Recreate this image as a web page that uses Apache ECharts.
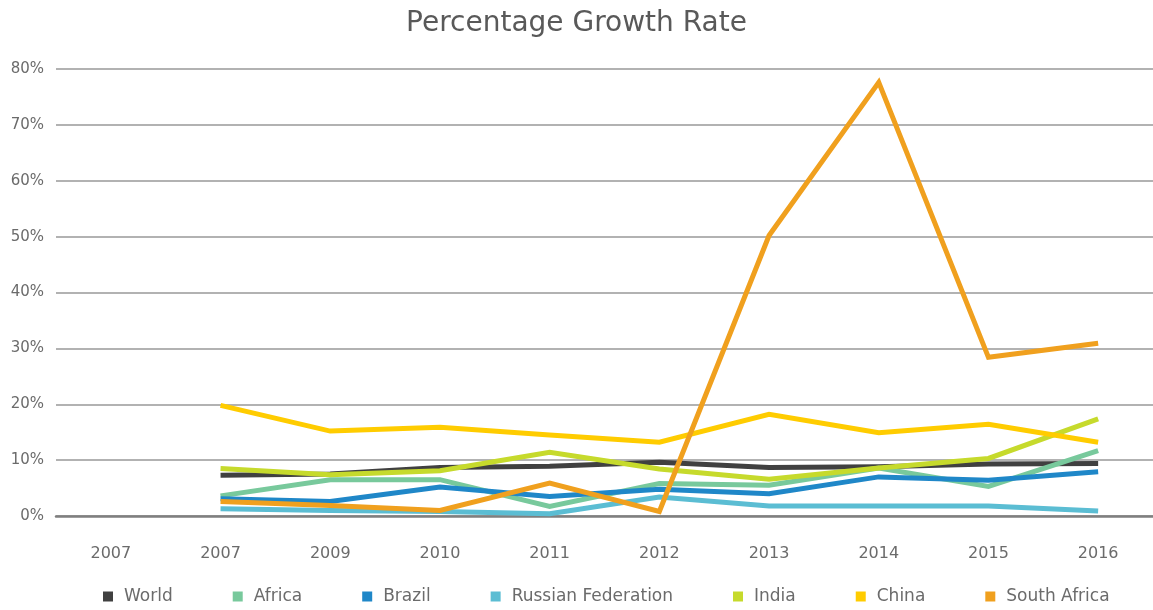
<!DOCTYPE html>
<html>
<head>
<meta charset="utf-8">
<title>Percentage Growth Rate</title>
<script src="https://cdn.jsdelivr.net/npm/echarts@6/dist/echarts.min.js"></script>
<style>
  html, body { margin: 0; padding: 0; background: #fff; }
  #chart { width: 1153px; height: 610px; }
</style>
</head>
<body>
<div id="chart"></div>
<script>
// Year labels along the x axis (the first two both read 2007)
const years = ['2007', '2007', '2009', '2010', '2011', '2012', '2013', '2014', '2015', '2016'];

// Growth rates in percent; the first slot has no data
const world        = [null, 7.3, 7.5, 8.7, 8.9, 9.6, 8.7, 8.8, 9.3, 9.4];
const africa       = [null, 3.6, 6.5, 6.5, 1.7, 5.8, 5.5, 8.6, 5.3, 11.7];
const brazil       = [null, 3.1, 2.6, 5.2, 3.5, 4.8, 4.0, 7.0, 6.4, 7.9];
const russia       = [null, 1.3, 1.0, 0.8, 0.4, 3.4, 1.8, 1.8, 1.8, 0.9];
const india        = [null, 8.5, 7.4, 8.1, 11.4, 8.4, 6.6, 8.6, 10.3, 17.4];
const china        = [null, 19.8, 15.2, 15.9, 14.5, 13.2, 18.2, 14.9, 16.4, 13.2];
const southAfrica  = [null, 2.6, 1.9, 1.0, 5.9, 0.8, 50.2, 77.6, 28.4, 30.9];

const seriesDefs = [
  { name: 'World',              data: world,       color: '#404040' },
  { name: 'Africa',             data: africa,      color: '#78c99c' },
  { name: 'Brazil',             data: brazil,      color: '#1f87c8' },
  { name: 'Russian Federation', data: russia,      color: '#5bbdd3' },
  { name: 'India',              data: india,       color: '#c6da2c' },
  { name: 'China',              data: china,       color: '#ffcc00' },
  { name: 'South Africa',       data: southAfrica, color: '#f0a01e' }
];

const FONT = 'DejaVu Sans';
const chart = echarts.init(document.getElementById('chart'), null, { renderer: 'canvas' });

chart.setOption({
  animation: false,
  backgroundColor: '#ffffff',
  textStyle: { fontFamily: FONT },
  title: {
    text: 'Percentage Growth Rate',
    left: 'center',
    top: 5,
    textStyle: { fontFamily: FONT, fontSize: 28, fontWeight: 'normal', color: '#595959' }
  },
  legend: {
    bottom: 0,
    left: 98,
    itemWidth: 10,
    itemHeight: 10,
    itemGap: 60,
    icon: 'rect',
    textStyle: { fontFamily: FONT, fontSize: 17, color: '#6b6b6b', padding: [0, 0, 0, 6] },
    data: seriesDefs.map(s => s.name)
  },
  grid: { left: 56, top: 69, width: 1101, bottom: 94 },
  xAxis: {
    type: 'category',
    data: years,
    boundaryGap: true,
    axisTick: { show: false },
    axisLine: { show: true, lineStyle: { color: '#7f7f7f', width: 2.5 } },
    axisLabel: { fontFamily: FONT, fontSize: 16, color: '#6b6b6b', margin: 30 }
  },
  yAxis: {
    type: 'value',
    min: 0,
    max: 80,
    interval: 10,
    axisLine: { show: false },
    axisTick: { show: false },
    axisLabel: { fontFamily: FONT, fontSize: 15, color: '#6b6b6b', margin: 12, formatter: '{value}%' },
    splitLine: { lineStyle: { color: '#999999', width: 1.5 } }
  },
  series: seriesDefs.map(s => ({
    name: s.name,
    type: 'line',
    data: s.data,
    showSymbol: false,
    symbol: 'none',
    itemStyle: { color: s.color },
    lineStyle: { color: s.color, width: 5, join: 'miter' },
    emphasis: { disabled: true }
  }))
});
</script>
</body>
</html>
